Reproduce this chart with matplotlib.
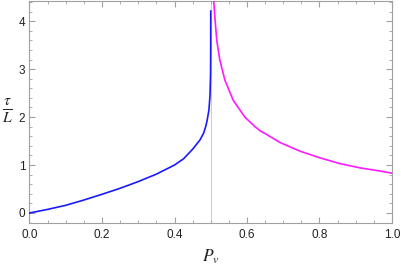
import matplotlib.pyplot as plt
from matplotlib.ticker import MultipleLocator

# values
p_left = [0.0, 0.05, 0.1, 0.15, 0.2, 0.25, 0.3, 0.35, 0.4, 0.425, 0.45,
          0.47, 0.48, 0.486, 0.49, 0.495, 0.498, 0.4995, 0.4999, 0.5]
tau_left = [0.0, 0.075, 0.16, 0.27, 0.39, 0.515, 0.655, 0.81, 1.00, 1.13, 1.33,
            1.52, 1.66, 1.80, 1.93, 2.15, 2.45, 2.9, 3.5, 4.21]

p_right = [0.507, 0.508, 0.512, 0.5166, 0.525, 0.539, 0.562, 0.594, 0.622,
           0.635, 0.658, 0.691, 0.746, 0.801, 0.856, 0.912, 0.967, 1.0]
tau_right = [4.6, 4.44, 4.02, 3.60, 3.19, 2.77, 2.35, 2.0, 1.80,
             1.72, 1.62, 1.47, 1.29, 1.15, 1.03, 0.94, 0.875, 0.83]

p_crit = 0.5

plt.rcParams['font.family'] = ['Liberation Sans', 'DejaVu Sans']
plt.rcParams['mathtext.fontset'] = 'stix'

fig = plt.figure(figsize=(4.02, 2.67), dpi=100)
ax = fig.add_axes([29.5 / 402, 43.7 / 267, (392 - 29.5) / 402, (266 - 43.7) / 267])

ax.axvline(p_crit, color='#cfcfcf', lw=0.8, zorder=1)
ax.plot(p_left, tau_left, color='#1a1aff', lw=1.2, zorder=3)
ax.plot(p_right, tau_right, color='#ff1aff', lw=1.2, zorder=3)

ax.set_xlim(0, 1)
ax.set_ylim(-0.215, 4.42)

ax.xaxis.set_major_locator(MultipleLocator(0.2))
ax.xaxis.set_minor_locator(MultipleLocator(0.05))
ax.yaxis.set_major_locator(MultipleLocator(1))
ax.yaxis.set_minor_locator(MultipleLocator(0.2))
ax.xaxis.set_major_formatter(lambda v, pos: f"{v:.1f}")

for s in ax.spines.values():
    s.set_color('#a0a0a0')
    s.set_linewidth(0.8)
ax.tick_params(which='both', direction='in', top=True, right=True,
               color='#a0a0a0', labelsize=8.5, labelcolor='#222222')
ax.tick_params(which='major', length=4, width=0.8)
ax.tick_params(which='minor', length=2, width=0.6)
ax.tick_params(axis='x', pad=4)
ax.tick_params(axis='y', pad=3)

ax.set_xlabel(r'$P_v$', fontsize=12.5, labelpad=5, color='#222222')
fig.text(7 / 402, 1 - 111 / 267, r'$\frac{\tau}{L}$', fontsize=16,
         ha='center', va='center', color='#222222')

fig.savefig('out.png', dpi=100)
